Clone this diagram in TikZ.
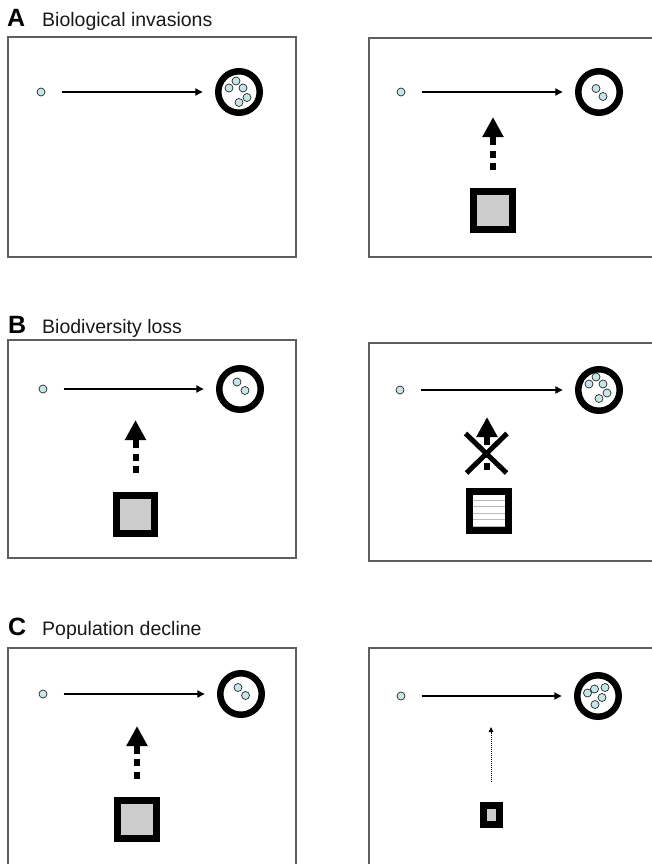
\documentclass[tikz,border=0pt]{standalone}
\usepackage{fontspec}
\setmainfont{Liberation Sans}
\usetikzlibrary{arrows.meta}
\definecolor{seedblue}{RGB}{198,230,234}
\definecolor{boxgray}{RGB}{95,95,95}
\begin{document}
\begin{tikzpicture}[x=1pt,y=-1pt,
 panel/.style={draw=boxgray,line width=1.1pt},
 letter/.style={anchor=base west,inner sep=0pt,font=\bfseries\fontsize{25}{25}\selectfont},
 caption/.style={anchor=base west,inner sep=0pt,font=\fontsize{19.5}{21}\selectfont,text=black!90},
 seed/.style={circle,draw=black!85,fill=seedblue,line width=0.7pt,minimum size=8pt,inner sep=0pt,outer sep=0pt},
 dot/.style={circle,draw=black!85,fill=seedblue,line width=0.7pt,minimum size=8pt,inner sep=0pt,outer sep=0pt},
 ring/.style={circle,draw=black,line width=6.5pt,minimum size=41.5pt,inner sep=0pt,outer sep=0pt},
 growth/.style={line width=2pt,-{Triangle[length=7.5pt,width=7pt]},shorten <=16.5pt,shorten >=15.5pt},
 effect/.style={line width=6pt,dash pattern=on 7pt off 5.5pt on 7pt off 5.5pt on 25pt off 0pt,-{Triangle[length=20pt,width=20pt]}},
 weakeffect/.style={line width=0.9pt,dash pattern=on 1pt off 1pt,-{Triangle[length=5pt,width=4.5pt]}},
 enemy/.style={draw=black,fill=gray!40,line width=7pt,minimum size=38.5pt,inner sep=0pt,outer sep=0pt},
 smallenemy/.style={draw=black,fill=gray!40,line width=7pt,minimum width=16pt,minimum height=19pt,inner sep=0pt,outer sep=0pt},
 stripe/.style={draw=gray!55,line width=1pt},
 crossline/.style={draw=black,line width=5pt}
]
\useasboundingbox (0,0) rectangle (652,864);
\clip (0,0) rectangle (652,864);
\fill[white] (0,0) rectangle (652,864);

% ---------- titles ----------
\node[letter] (tA) at (7,27) {A};
\node[caption] (cA) at (42,27) {Biological invasions};
\node[letter] (tB) at (8,333) {B};
\node[caption] (cB) at (42,333) {Biodiversity loss};
\node[letter] (tC) at (8,635) {C};
\node[caption] (cC) at (42,635) {Population decline};

% ---------- panel frames ----------
\draw[panel] (8,37) rectangle (296,257);
\draw[panel] (369,38) rectangle (700,257);
\draw[panel] (8,340) rectangle (296,558);
\draw[panel] (369,343) rectangle (700,561);
\draw[panel] (8,648) rectangle (296,900);
\draw[panel] (369,648) rectangle (700,900);

% ---------- A left ----------
\node[seed] (sAL) at (41,92) {};
\node[ring] (rAL) at (239,92) {};
\draw[growth] (sAL) -- (rAL);
\begin{scope}[shift={(rAL.center)}]
 \node[dot] (dAL1) at (-3,-11) {};
 \node[dot] (dAL2) at (-10,-4) {};
 \node[dot] (dAL3) at (4,-4) {};
 \node[dot] (dAL4) at (8,5.5) {};
 \node[dot] (dAL5) at (0,10.5) {};
\end{scope}

% ---------- A right ----------
\node[seed] (sAR) at (401,92) {};
\node[ring] (rAR) at (599,92) {};
\draw[growth] (sAR) -- (rAR);
\begin{scope}[shift={(rAR.center)}]
 \node[dot] (dAR1) at (-3,-3.5) {};
 \node[dot] (dAR2) at (4,4.5) {};
\end{scope}
\node[enemy] (qAR) at (493,210.5) {};
\coordinate (hAR) at (493,117);
\draw[effect,shorten <=21.25pt] (qAR.north) -- (hAR);

% ---------- B left ----------
\node[seed] (sBL) at (43,389) {};
\node[ring] (rBL) at (240,389) {};
\draw[growth] (sBL) -- (rBL);
\begin{scope}[shift={(rBL.center)}]
 \node[dot] (dBL1) at (-3,-7) {};
 \node[dot] (dBL2) at (5,1.5) {};
\end{scope}
\node[enemy] (qBL) at (135.5,514.5) {};
\coordinate (hBL) at (135.5,420);
\draw[effect,shorten <=22.25pt] (qBL.north) -- (hBL);

% ---------- B right ----------
\node[seed] (sBR) at (400,390) {};
\node[ring] (rBR) at (599,390) {};
\draw[growth] (sBR) -- (rBR);
\begin{scope}[shift={(rBR.center)}]
 \node[dot] (dBR1) at (-3,-13) {};
 \node[dot] (dBR2) at (-10,-6) {};
 \node[dot] (dBR3) at (4,-6) {};
 \node[dot] (dBR4) at (8,3) {};
 \node[dot] (dBR5) at (0,8.5) {};
\end{scope}
\node[enemy,fill=white] (qBR) at (489,511) {};
\begin{scope}[shift={(qBR.center)}]
 \foreach \k in {-10.3,-4.3,2.3,8.3,15} \draw[stripe] (-15.7,\k) -- (15.7,\k);
\end{scope}
\coordinate (hBR) at (487,417);
\draw[effect,shorten <=21.5pt] (qBR.north -| hBR) -- (hBR);
\draw[crossline] (465.5,433.5) -- (506.5,473);
\draw[crossline] (507,433.5) -- (466.5,473);

% ---------- C left ----------
\node[seed] (sCL) at (43,694) {};
\node[ring] (rCL) at (241,694) {};
\draw[growth] (sCL) -- (rCL);
\begin{scope}[shift={(rCL.center)}]
 \node[dot] (dCL1) at (-3,-6.5) {};
 \node[dot] (dCL2) at (4.5,1.5) {};
\end{scope}
\node[enemy] (qCL) at (137,819.5) {};
\coordinate (hCL) at (137,726);
\draw[effect,shorten <=21.5pt] (qCL.north) -- (hCL);

% ---------- C right ----------
\node[seed] (sCR) at (401,696) {};
\node[ring] (rCR) at (598,696) {};
\draw[growth] (sCR) -- (rCR);
\begin{scope}[shift={(rCR.center)}]
 \node[dot] (dCR1) at (-10.5,-3) {};
 \node[dot] (dCR2) at (-3.5,-7) {};
 \node[dot] (dCR3) at (7,-8.5) {};
 \node[dot] (dCR4) at (4,1.5) {};
 \node[dot] (dCR5) at (-3,8.5) {};
\end{scope}
\node[smallenemy] (qCR) at (491,815) {};
\coordinate (hCR) at (491,727);
\draw[weakeffect,shorten <=23.5pt] (qCR.north) -- (hCR);
\end{tikzpicture}
\end{document}
